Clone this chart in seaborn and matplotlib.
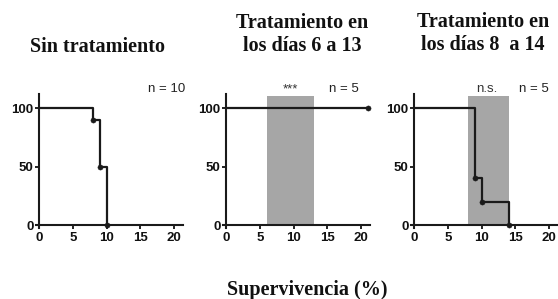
import matplotlib
matplotlib.use("Agg")
import matplotlib.pyplot as plt
import seaborn as sns

# ── data ──────────────────────────────────
titles = ["Sin tratamiento", "Tratamiento en\nlos días 6 a 13", "Tratamiento en\nlos días 8  a 14"]
n_labels = ["n = 10", "n = 5", "n = 5"]
sig_labels = ["", "***", "n.s."]

days_1 = [0, 8, 9, 10]
surv_1 = [100, 90, 50, 0]
mark_days_1 = [8, 9, 10]
mark_surv_1 = [90, 50, 0]

days_2 = [0, 21]
surv_2 = [100, 100]
mark_days_2 = [21]
mark_surv_2 = [100]

days_3 = [0, 9, 10, 14]
surv_3 = [100, 40, 20, 0]
mark_days_3 = [9, 10, 14]
mark_surv_3 = [40, 20, 0]

treat_windows = [None, (6, 13), (8, 14)]
sig_x = [None, 9.5, 10.8]
n_x = [21.6, 19.6, 19.9]

x_ticks = [0, 5, 10, 15, 20]
y_ticks = [0, 50, 100]

series = [
    (days_1, surv_1, mark_days_1, mark_surv_1),
    (days_2, surv_2, mark_days_2, mark_surv_2),
    (days_3, surv_3, mark_days_3, mark_surv_3),
]

# ── style ─────────────────────────────────
sns.set_style("ticks")
plt.rcParams["font.family"] = ["Liberation Sans", "DejaVu Sans"]

fig = plt.figure(figsize=(5.58, 2.99), dpi=100)
lefts = [0.0645, 0.400, 0.7366]
line_col = "#1a1a1a"
serif = "Liberation Serif"

for i, (days, surv, md, ms) in enumerate(series):
    ax = fig.add_axes([lefts[i], 0.2375, 0.263, 0.448])
    if treat_windows[i] is not None:
        a, b = treat_windows[i]
        ax.fill_between([a, b], 0, 110, color="#a6a6a6", lw=0, zorder=0)
    sns.lineplot(x=days, y=surv, ax=ax, drawstyle="steps-post", color=line_col,
                 linewidth=1.6, estimator=None, sort=False, clip_on=False, zorder=3)
    sns.scatterplot(x=md, y=ms, ax=ax, color=line_col, s=14, edgecolor=line_col,
                    clip_on=False, zorder=4)
    ax.set_xlim(-0.45, 21.3)
    ax.set_ylim(-2.5, 112)
    ax.spines["left"].set_position(("data", 0))
    ax.spines["bottom"].set_position(("data", 0))
    ax.set_xticks(x_ticks)
    ax.set_yticks(y_ticks)
    ax.tick_params(labelsize=9.5, length=3, width=1.3, colors="#111111")
    ax.tick_params(axis="x", pad=2)
    ax.tick_params(axis="y", pad=1)
    for lab in ax.get_xticklabels() + ax.get_yticklabels():
        lab.set_fontweight("bold")
    for s in ["left", "bottom"]:
        ax.spines[s].set_linewidth(1.5)
        ax.spines[s].set_color(line_col)
    sns.despine(ax=ax)
    ax.set_xlabel("")
    ax.set_ylabel("")
    ax.text(n_x[i], 116, n_labels[i], ha="right", va="center", fontsize=9.5,
            color="#222222", clip_on=False)
    if sig_labels[i]:
        ax.text(sig_x[i], 116, sig_labels[i], ha="center", va="center",
                fontsize=9.5, color="#333333", clip_on=False)

# titles
fig.text(0.174, 0.842, titles[0], ha="center", va="center", fontsize=14.5,
         fontweight="bold", family=serif, color="#111111")
fig.text(0.541, 0.884, titles[1], ha="center", va="center", fontsize=14.5,
         fontweight="bold", family=serif, color="#111111", linespacing=1.18)
fig.text(0.866, 0.889, titles[2], ha="center", va="center", fontsize=14.5,
         fontweight="bold", family=serif, color="#111111", linespacing=1.18)

fig.text(0.55, 0.03, "Supervivencia (%)", ha="center", va="center", fontsize=14.5,
         fontweight="bold", family=serif, color="#111111")

fig.savefig("out.png", dpi=100)
